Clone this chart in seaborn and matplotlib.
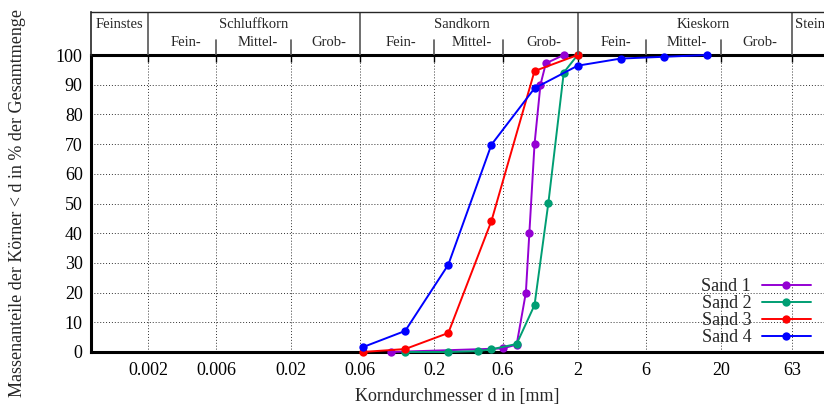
import numpy as np
import pandas as pd
import matplotlib
matplotlib.use('Agg')
import matplotlib.pyplot as plt
import seaborn as sns

# Sieblinien: Korndurchmesser d [mm] und Massenanteil < d [%]
sand1_d = [0.1, 0.6, 0.75, 0.87, 0.92, 1.0, 1.1, 1.2, 1.6]
sand1_p = [0.0, 1.2, 2.5, 20.0, 40.0, 70.0, 90.0, 97.2, 100.0]
sand2_d = [0.125, 0.25, 0.4, 0.5, 0.75, 1.0, 1.25, 1.6, 2.0]
sand2_p = [0.0, 0.0, 0.3, 0.9, 2.7, 15.8, 50.3, 94.1, 100.0]
sand3_d = [0.063, 0.125, 0.25, 0.5, 1.0, 2.0]
sand3_p = [0.0, 1.0, 6.4, 44.1, 94.6, 100.0]
sand4_d = [0.063, 0.125, 0.25, 0.5, 1.0, 2.0, 4.0, 8.0, 16.0]
sand4_p = [1.6, 7.1, 29.4, 69.8, 88.8, 96.4, 98.8, 99.4, 100.0]

series_names = ['Sand 1', 'Sand 2', 'Sand 3', 'Sand 4']
series_colors = ['#9400d3', '#009e73', '#ff0000', '#0000ff']

x_ticks = [0.002, 0.006, 0.02, 0.06, 0.2, 0.6, 2, 6, 20, 63]
x_ticklabels = ['0.002', '0.006', '0.02', '0.06', '0.2', '0.6', '2', '6', '20', '63']
y_ticks = list(range(0, 101, 10))

# Kopfzeile mit Bodenarten
main_bounds = [0.002, 0.06, 2, 63]
sub_bounds = [0.006, 0.02, 0.2, 0.6, 6, 20]
groups = ['Feinstes', 'Schluffkorn', 'Sandkorn', 'Kieskorn', 'Steine']
group_x = [0.00126, 0.011, 0.31, 15.0, 65.5]
sub_names = ['Fein-', 'Mittel-', 'Grob-']
sub_edges = [[0.002, 0.006, 0.02, 0.06], [0.06, 0.2, 0.6, 2], [2, 6, 20, 63]]

df = pd.concat([
    pd.DataFrame({'d': d, 'p': p, 'sand': n})
    for d, p, n in zip([sand1_d, sand2_d, sand3_d, sand4_d],
                       [sand1_p, sand2_p, sand3_p, sand4_p], series_names)
])

sns.set_style('white')
plt.rcParams['font.family'] = ['Liberation Serif', 'DejaVu Serif']
plt.rcParams['mathtext.fontset'] = 'stix'

W, H = 824, 408
fig = plt.figure(figsize=(W / 100, H / 100), dpi=100)
ax = fig.add_axes([91 / W, 56 / H, 733 / W, 297 / H])
hax = fig.add_axes([91 / W, 353 / H, 733 / W, 43 / H])

xlim = (0.0008, 105)

for name, col in zip(series_names, series_colors):
    sub = df[df['sand'] == name]
    sns.lineplot(data=sub, x='d', y='p', ax=ax, color=col, label=name,
                 marker='o', markersize=6, markeredgewidth=0, lw=1.4,
                 clip_on=False, zorder=5, sort=False, estimator=None)

ax.set_xscale('log')
ax.set_xlim(*xlim)
ax.set_ylim(0, 100)
ax.set_xticks(x_ticks)
ax.set_xticklabels(x_ticklabels)
ax.xaxis.set_minor_locator(matplotlib.ticker.NullLocator())
ax.set_yticks(y_ticks)
ax.tick_params(axis='both', direction='in', length=5, width=1, labelsize=13,
               top=True, colors='black')
ax.tick_params(axis='x', pad=7)
ax.tick_params(axis='y', pad=6)
ax.grid(True, which='major', color='black', lw=0.7, ls=(0, (1, 2)), alpha=0.8)
ax.set_xlabel('')
ax.set_ylabel('')
for s in ['left', 'bottom', 'top']:
    ax.spines[s].set_linewidth(2.2)
    ax.spines[s].set_color('black')
ax.spines['right'].set_visible(False)

leg = ax.legend(loc='lower right', bbox_to_anchor=(0.982, 0.02), frameon=False,
                markerfirst=False, fontsize=13, labelspacing=0.0,
                handlelength=2.7, handletextpad=0.6, borderpad=0, borderaxespad=0)

# Kopfzeile
hax.set_xscale('log')
hax.set_xlim(*xlim)
hax.set_ylim(0, 1)
hax.set_xticks([])
hax.set_yticks([])
hax.xaxis.set_minor_locator(matplotlib.ticker.NullLocator())
hax.patch.set_alpha(0)
hax.spines['bottom'].set_visible(False)
hax.spines['right'].set_visible(False)
hax.spines['top'].set_linewidth(1.0)
hax.spines['left'].set_linewidth(1.2)
for b in main_bounds:
    hax.axvline(b, color='#555555', lw=1.2)
for b in sub_bounds:
    hax.plot([b, b], [0, 0.35], color='#555555', lw=1.2)
for g, gx in zip(groups, group_x):
    hax.text(gx, 0.70, g, ha='left' if g == 'Steine' else 'center', va='center',
             fontsize=10.5)
for edges in sub_edges:
    for i, s in enumerate(sub_names):
        cx = np.sqrt(edges[i] * edges[i + 1]) * 1.06
        hax.text(cx, 0.28, s, ha='center', va='center', fontsize=10.5)

fig.text(457 / W, 1 - 396 / H, 'Korndurchmesser d in [mm]', ha='center',
         va='center', fontsize=13)
fig.text(18 / W, 1 - 203 / H, 'Massenanteile der Körner < d in % der Gesamtmenge',
         ha='center', va='center', rotation=90, fontsize=13)

fig.savefig('out.png', dpi=100)
